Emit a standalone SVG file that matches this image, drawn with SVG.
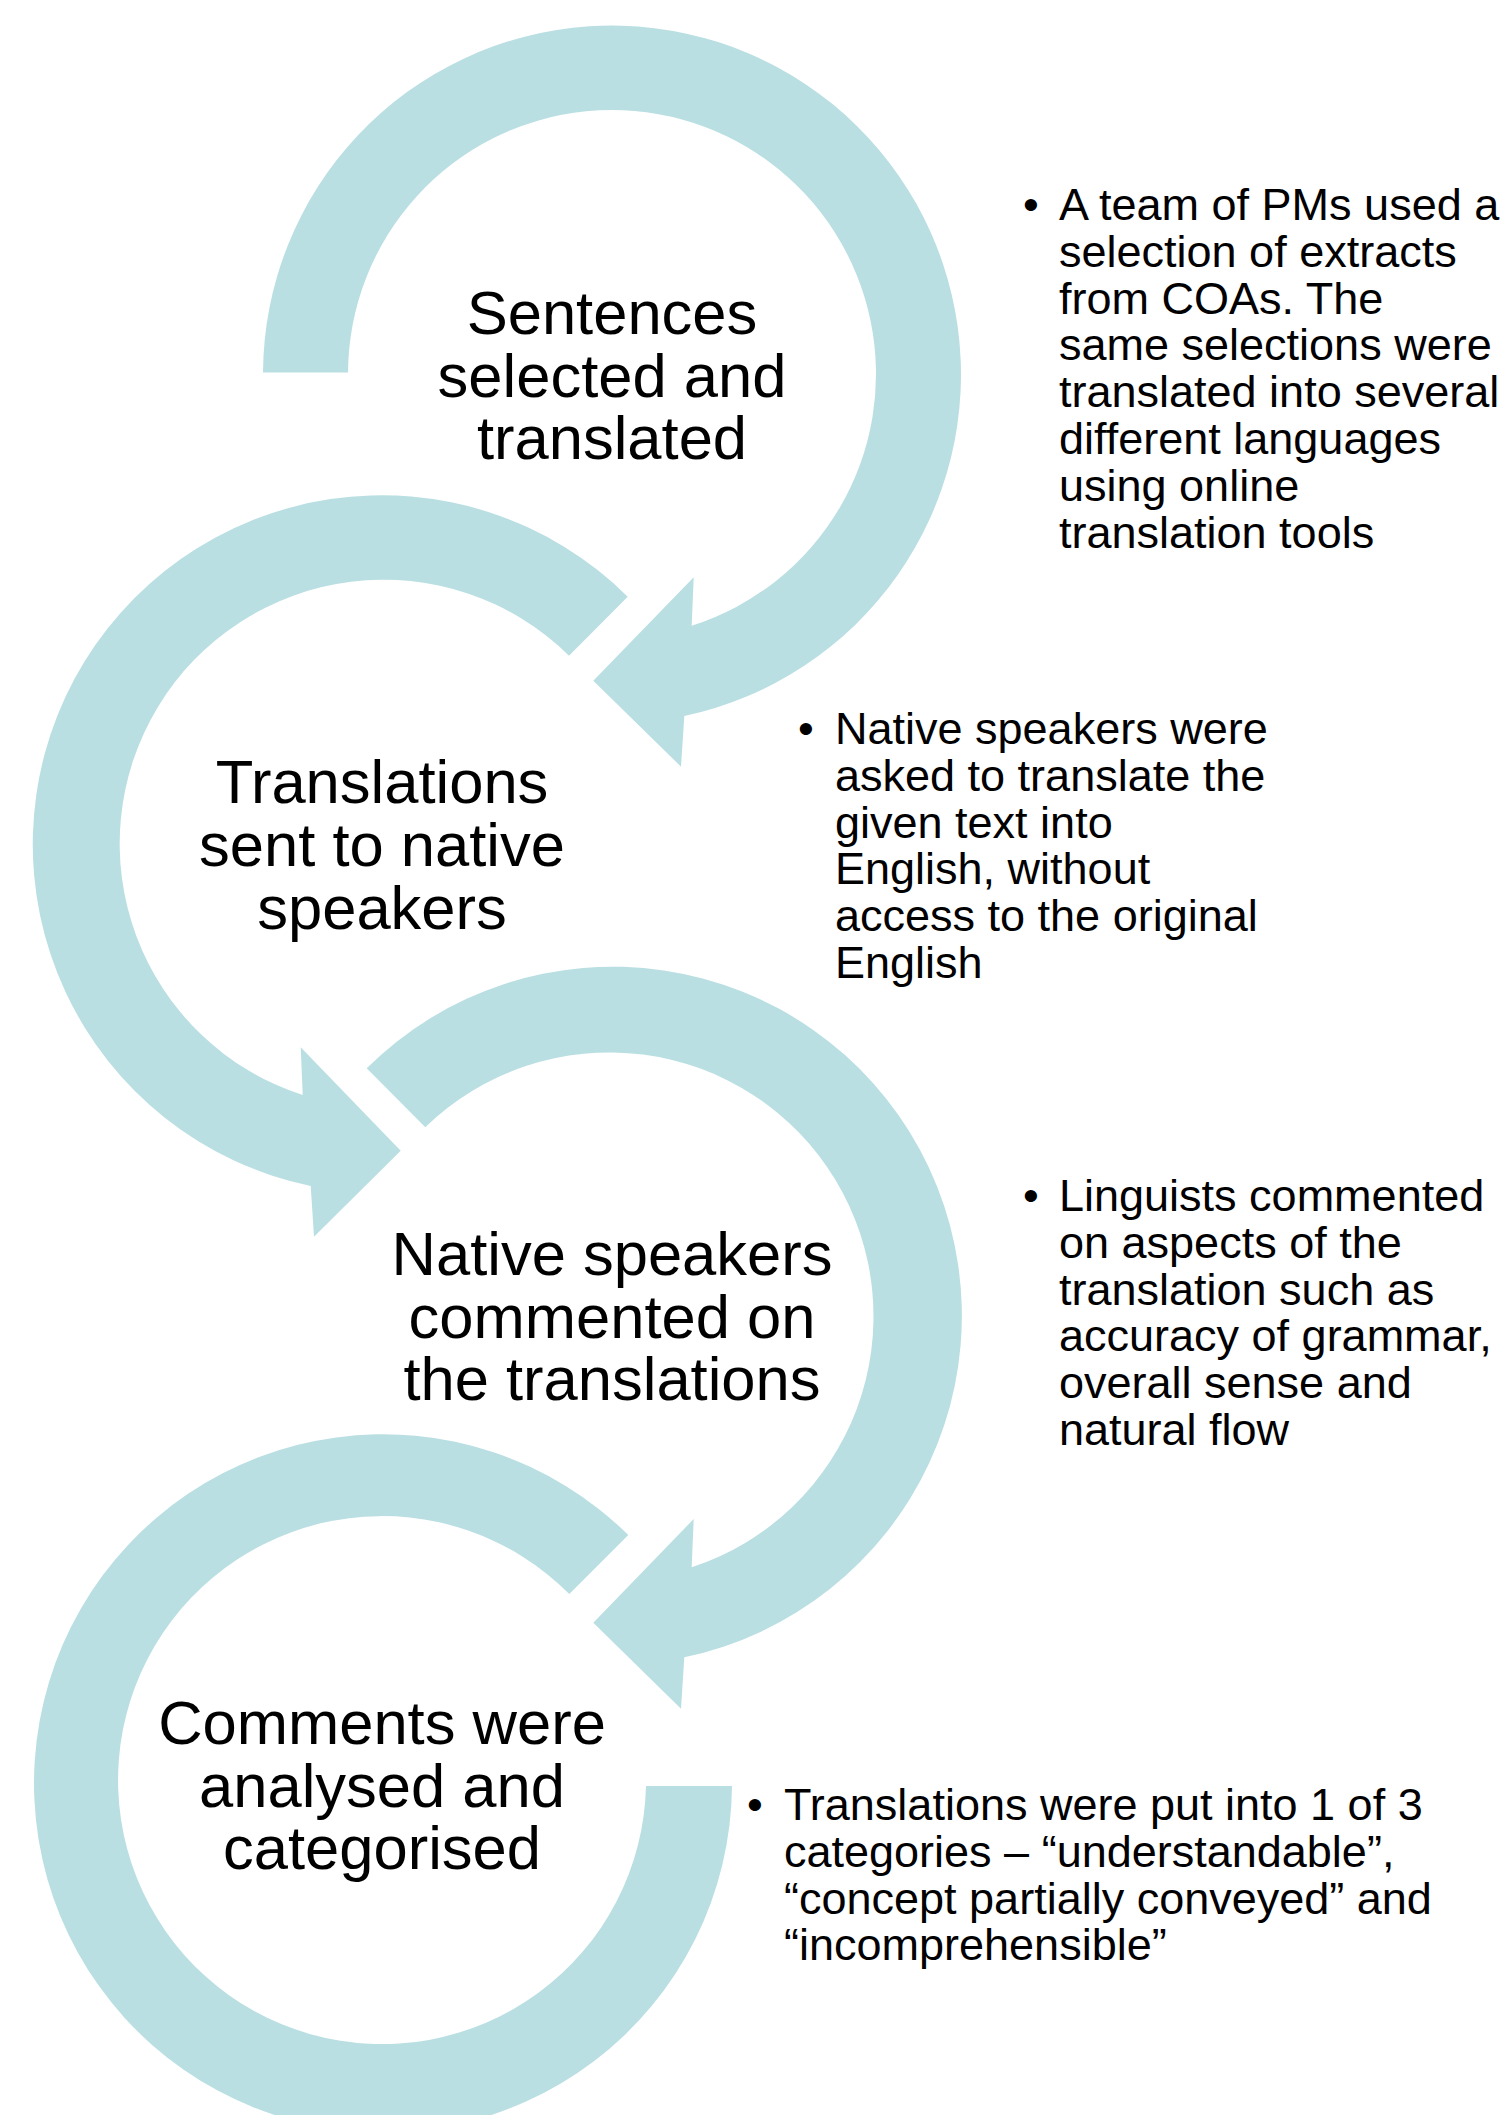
<svg xmlns="http://www.w3.org/2000/svg" width="1512" height="2115" viewBox="0 0 1512 2115">
<style>
.arrow{fill:#BADFE2;stroke:none}
.main{font-family:"Liberation Sans",Arial,sans-serif;font-size:61.5px;fill:#000;text-anchor:middle}
.bul{font-family:"Liberation Sans",Arial,sans-serif;font-size:45px;fill:#000}
.dot{font-family:"Liberation Sans",Arial,sans-serif;font-size:45px;fill:#000;text-anchor:middle}
</style>
<rect width="1512" height="2115" fill="#fff"/>
<g id="connectors">
<path class="arrow" d="M 263 372.5 A 349 349 0 1 1 684.3 716 L 681 766.7 L 593.3 680.7 L 693.7 577.3 L 691.7 625.7 A 264 264 0 1 0 348 372.5 Z"/>
<path class="arrow" d="M 627.7 596.7 A 349 349 0 1 0 310.7 1186 L 314 1236.7 L 400.7 1150.7 L 300.7 1047.3 L 302.7 1095 A 264 264 0 1 1 569 655.7 Z"/>
<path class="arrow" d="M 366.7 1068.3 A 349 349 0 1 1 684.3 1657.3 L 681 1708.7 L 593.3 1622.7 L 693.7 1519 L 691.7 1567.3 A 264 264 0 1 0 425.3 1127.3 Z"/>
<path class="arrow" d="M 628.3 1535 A 349 349 0 1 0 732 1786 L 646 1786 A 264 264 0 1 1 569.3 1594 Z"/>
</g>
<g id="node1">
<text class="main" x="612" y="334">Sentences</text>
<text class="main" x="612" y="396.5">selected and</text>
<text class="main" x="612" y="459">translated</text>
</g>
<g id="node2">
<text class="main" x="382" y="803">Translations</text>
<text class="main" x="382" y="866">sent to native</text>
<text class="main" x="382" y="929">speakers</text>
</g>
<g id="node3">
<text class="main" x="612" y="1275">Native speakers</text>
<text class="main" x="612" y="1338">commented on</text>
<text class="main" x="612" y="1400">the translations</text>
</g>
<g id="node4">
<text class="main" x="382" y="1744">Comments were</text>
<text class="main" x="382" y="1806.5">analysed and</text>
<text class="main" x="382" y="1869">categorised</text>
</g>
<g id="note1">
<text class="dot" x="1031" y="220">•</text>
<text class="bul" x="1059" y="220">A team of PMs used a</text>
<text class="bul" x="1059" y="266.8">selection of extracts</text>
<text class="bul" x="1059" y="313.6">from COAs. The</text>
<text class="bul" x="1059" y="360.4">same selections were</text>
<text class="bul" x="1059" y="407.2">translated into several</text>
<text class="bul" x="1059" y="454">different languages</text>
<text class="bul" x="1059" y="500.8">using online</text>
<text class="bul" x="1059" y="547.6">translation tools</text>
</g>
<g id="note2">
<text class="dot" x="806" y="744">•</text>
<text class="bul" x="835" y="744">Native speakers were</text>
<text class="bul" x="835" y="790.8">asked to translate the</text>
<text class="bul" x="835" y="837.6">given text into</text>
<text class="bul" x="835" y="884.4">English, without</text>
<text class="bul" x="835" y="931.2">access to the original</text>
<text class="bul" x="835" y="978">English</text>
</g>
<g id="note3">
<text class="dot" x="1031" y="1211">•</text>
<text class="bul" x="1059" y="1211">Linguists commented</text>
<text class="bul" x="1059" y="1257.8">on aspects of the</text>
<text class="bul" x="1059" y="1304.6">translation such as</text>
<text class="bul" x="1059" y="1351.4">accuracy of grammar,</text>
<text class="bul" x="1059" y="1398.2">overall sense and</text>
<text class="bul" x="1059" y="1445">natural flow</text>
</g>
<g id="note4">
<text class="dot" x="755" y="1820">•</text>
<text class="bul" x="784" y="1820">Translations were put into 1 of 3</text>
<text class="bul" x="784" y="1866.8">categories – “understandable”,</text>
<text class="bul" x="784" y="1913.6">“concept partially conveyed” and</text>
<text class="bul" x="784" y="1960.4">“incomprehensible”</text>
</g>
</svg>
